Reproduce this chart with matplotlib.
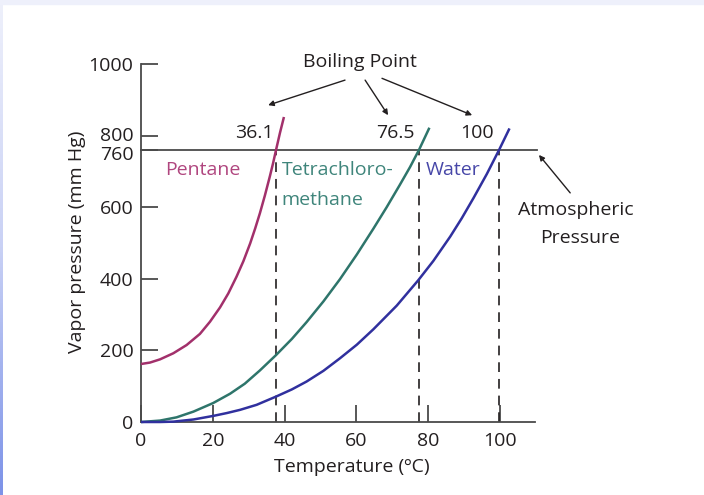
import numpy as np
import matplotlib.pyplot as plt
from matplotlib.colors import LinearSegmentedColormap

plt.rcParams['font.family'] = ['Open Sans', 'DejaVu Sans']
plt.rcParams['lines.scale_dashes'] = False

# Vapor pressure curves (temperature in C, pressure in mm Hg)
pentane_T = [0, 2.5, 5.3, 9.0, 12.7, 16.4, 19.2, 22.0, 24.3, 26.6, 28.5, 30.4,
             31.8, 33.1, 34.5, 35.9, 36.8, 37.6, 38.7, 39.8]
pentane_P = [162, 166, 175, 192, 215, 246, 280, 320, 359, 406, 449, 499,
             541, 583, 633, 687, 724, 760, 808, 852]

tetra_T = [0, 5.3, 9.9, 14.6, 20.1, 24.8, 28.9, 33.1, 37.6, 42.0, 46.1, 50.8,
           55.4, 60.1, 64.7, 68.4, 72.1, 74.9, 77.4, 80.3]
tetra_P = [0, 4, 13, 29, 53, 79, 107, 144, 187, 232, 279, 337,
           399, 468, 540, 600, 663, 712, 760, 822]

water_T = [0, 5.3, 9.0, 14.6, 20.1, 23.9, 27.6, 32.2, 37.6, 42.0, 46.1, 50.8,
           55.4, 60.1, 64.7, 71.2, 77.2, 81.4, 86.1, 89.3, 92.6, 96.3, 99.7, 102.6]
water_P = [0, 0, 1, 7, 17, 25, 34, 48, 71, 91, 113, 143,
           178, 216, 259, 325, 396, 450, 518, 569, 626, 693, 760, 820]

boiling_x = [37.6, 77.4, 99.7]
boiling_labels = ['36.1', '76.5', '100']
atm_pressure = 760

x_ticks = [0, 20, 40, 60, 80, 100]
y_ticks = [0, 200, 400, 600, 760, 800, 1000]
y_labels = ['0', '200', '400', '600', '', '', '1000']

c_pent, c_tetra, c_water = '#a2306b', '#2e756b', '#30309e'
c_pent_t, c_tetra_t, c_water_t = '#b0467f', '#3f857b', '#4747a8'
ink = '#231f20'
axis_col = '#4a4a4a'

fig = plt.figure(figsize=(7.04, 4.95), dpi=100)

# thin lavender frame round the picture
fig.patches.append(plt.Rectangle((0, 1 - 4 / 495), 1, 4 / 495, transform=fig.transFigure,
                                 color='#eef0fb', zorder=0))
edge = fig.add_axes([0, 0, 3 / 704, 1])
grad = LinearSegmentedColormap.from_list('edge', ['#eef0fb', '#c9d1f5', '#7d93e8'])
edge.imshow(np.linspace(0, 1, 100).reshape(-1, 1), aspect='auto', cmap=grad)
edge.axis('off')

ax = fig.add_axes([141 / 704, 1 - 422 / 495, (535 - 141) / 704, (422 - 64) / 495])
ax.set_xlim(0, 109.7)
ax.set_ylim(0, 1000)

for s in ['top', 'right']:
    ax.spines[s].set_visible(False)
for s in ['left', 'bottom']:
    ax.spines[s].set_color(axis_col)
    ax.spines[s].set_linewidth(1.3)

ax.set_xticks(x_ticks)
ax.set_yticks(y_ticks)
ax.set_yticklabels(y_labels)
ax.tick_params(direction='in', length=12.5, width=1.3, color=axis_col,
               labelsize=14, labelcolor=ink)
ax.tick_params(axis='x', pad=7)
ax.tick_params(axis='y', pad=5.5)

# 800 and 760 sit close together, nudge them apart a little
for val, dy in [(800, 1.5), (760, -2.2)]:
    ax.annotate(str(val), xy=(0, val), xycoords=ax.get_yaxis_transform(),
                xytext=(-5.5, dy), textcoords='offset points',
                ha='right', va='center_baseline', fontsize=14, color=ink)

# atmospheric pressure line
ax.plot([0, 110.3], [atm_pressure, atm_pressure], color=axis_col, lw=1.3, clip_on=False, zorder=2)

# dashed boiling point drops
for bx in boiling_x:
    ax.plot([bx, bx], [0, atm_pressure], color=ink, lw=1.2, dashes=(7, 5), zorder=2)

ax.plot(pentane_T, pentane_P, color=c_pent, lw=1.8, clip_on=False, zorder=3,
        solid_capstyle='butt', solid_joinstyle='round')
ax.plot(tetra_T, tetra_P, color=c_tetra, lw=1.8, clip_on=False, zorder=3,
        solid_capstyle='butt', solid_joinstyle='round')
ax.plot(water_T, water_P, color=c_water, lw=1.8, clip_on=False, zorder=3,
        solid_capstyle='butt', solid_joinstyle='round')

# boiling point values
for bx, lab, dx in zip(boiling_x, boiling_labels, [0.8, 1.1, 1.6]):
    ax.text(bx - dx, 807, lab, ha='right', va='center', fontsize=14, color=ink)

# curve names
ax.text(6.7, 704, 'Pentane', fontsize=14, color=c_pent_t, va='center')
ax.text(39.1, 704, 'Tetrachloro-', fontsize=14, color=c_tetra_t, va='center')
ax.text(39.1, 620, 'methane', fontsize=14, color=c_tetra_t, va='center')
ax.text(79.4, 704, 'Water', fontsize=14, color=c_water_t, va='center')

# Boiling Point callout
ax.text(60.9, 1005, 'Boiling Point', fontsize=14, color=ink, ha='center', va='center',
        clip_on=False)
arrow = dict(arrowstyle='-|>', color=ink, lw=1.0, mutation_scale=8, shrinkA=0, shrinkB=0)
ax.annotate('', xy=(35.4, 885), xytext=(56.8, 955), arrowprops=arrow, annotation_clip=False)
ax.annotate('', xy=(68.8, 857), xytext=(62.4, 955), arrowprops=arrow, annotation_clip=False)
ax.annotate('', xy=(92.2, 857), xytext=(67.1, 960), arrowprops=arrow, annotation_clip=False)

# Atmospheric Pressure callout
ax.annotate('', xy=(110.8, 746), xytext=(119.5, 640), arrowprops=arrow, annotation_clip=False)
ax.text(121.2, 592, 'Atmospheric', fontsize=14, color=ink, ha='center', va='center',
        clip_on=False)
ax.text(122.3, 514, 'Pressure', fontsize=14, color=ink, ha='center', va='center',
        clip_on=False)

fig.text(352 / 704, 1 - 467 / 495, 'Temperature (ºC)', fontsize=14, color=ink,
         ha='center', va='center')
fig.text(77 / 704, 1 - 242 / 495, 'Vapor pressure (mm Hg)', fontsize=14, color=ink,
         ha='center', va='center', rotation=90)

fig.savefig('out.png', dpi=100)
